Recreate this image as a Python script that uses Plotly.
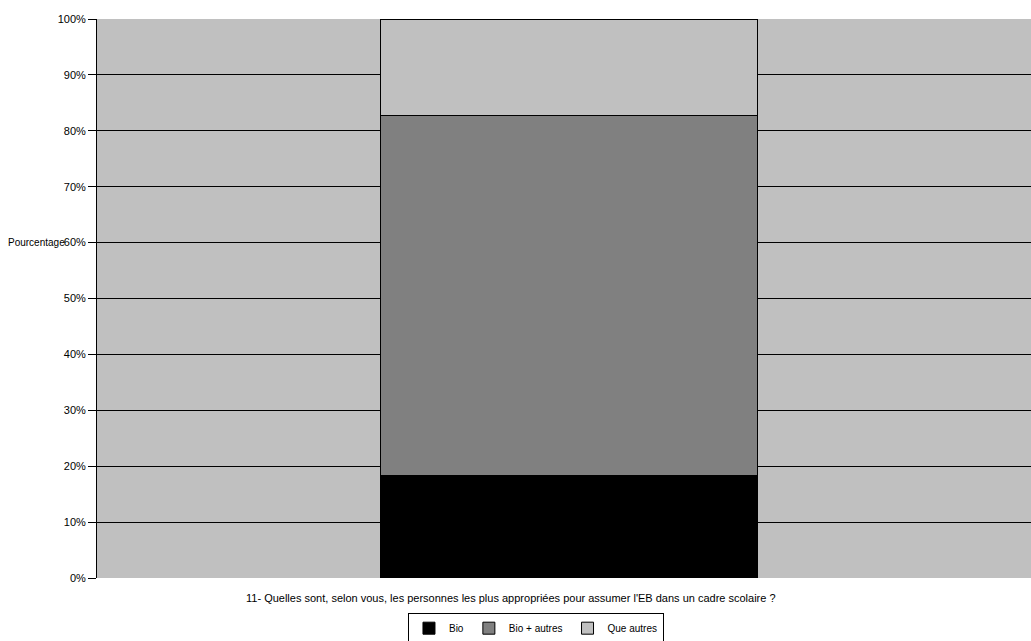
import plotly.graph_objects as go

category = ["11- Quelles sont, selon vous, les personnes les plus appropriées pour assumer l'EB dans un cadre scolaire ?"]
series_names = ["Bio", "Bio + autres", "Que autres"]
series_values = [[18.4], [64.4], [17.2]]
series_colors = ["#000000", "#808080", "#C0C0C0"]
y_ticks = [0, 10, 20, 30, 40, 50, 60, 70, 80, 90, 100]
y_ticklabels = [f"{v}%" for v in y_ticks]

fig = go.Figure()
for name, vals, col in zip(series_names, series_values, series_colors):
    fig.add_trace(go.Bar(
        x=category, y=vals, name=name,
        marker=dict(color=col, line=dict(color="#000000", width=1)),
        width=0.403,
    ))

fig.update_layout(
    barmode="stack",
    width=1031, height=641,
    margin=dict(l=97, r=0, t=19, b=63, autoexpand=False),
    paper_bgcolor="#FFFFFF",
    plot_bgcolor="#C0C0C0",
    font=dict(family="Liberation Sans, Arial", size=10, color="#000000"),
    showlegend=True,
    legend=dict(
        orientation="h", traceorder="normal",
        xref="paper", x=0.47, xanchor="center",
        yref="container", y=0.02, yanchor="middle",
        bordercolor="#000000", borderwidth=1, bgcolor="#FFFFFF",
        font=dict(size=10), itemwidth=30, tracegroupgap=0,
    ),
    xaxis=dict(showgrid=False, ticks="", showline=False, showticklabels=False,
               range=[-0.5054, 0.4946], automargin=False),
    yaxis=dict(
        range=[0, 100], tickvals=y_ticks, ticktext=y_ticklabels,
        showgrid=True, gridcolor="#000000", gridwidth=1,
        ticks="outside", ticklen=8, tickcolor="#000000", tickfont=dict(size=11),
        showline=True, linecolor="#000000", linewidth=1,
        zeroline=False, automargin=False,
    ),
    annotations=[
        dict(text="Pourcentage", xref="paper", yref="y", x=0, y=60,
             xanchor="left", yanchor="middle", xshift=-91, showarrow=False,
             font=dict(size=10)),
        dict(text=category[0], xref="paper", yref="paper", x=0.443, y=0,
             xanchor="center", yanchor="middle", yshift=-20, showarrow=False,
             font=dict(size=11)),
    ],
)

fig.write_html("out.html", config={"displayModeBar": False},
               post_script="document.body.style.margin='0';")
